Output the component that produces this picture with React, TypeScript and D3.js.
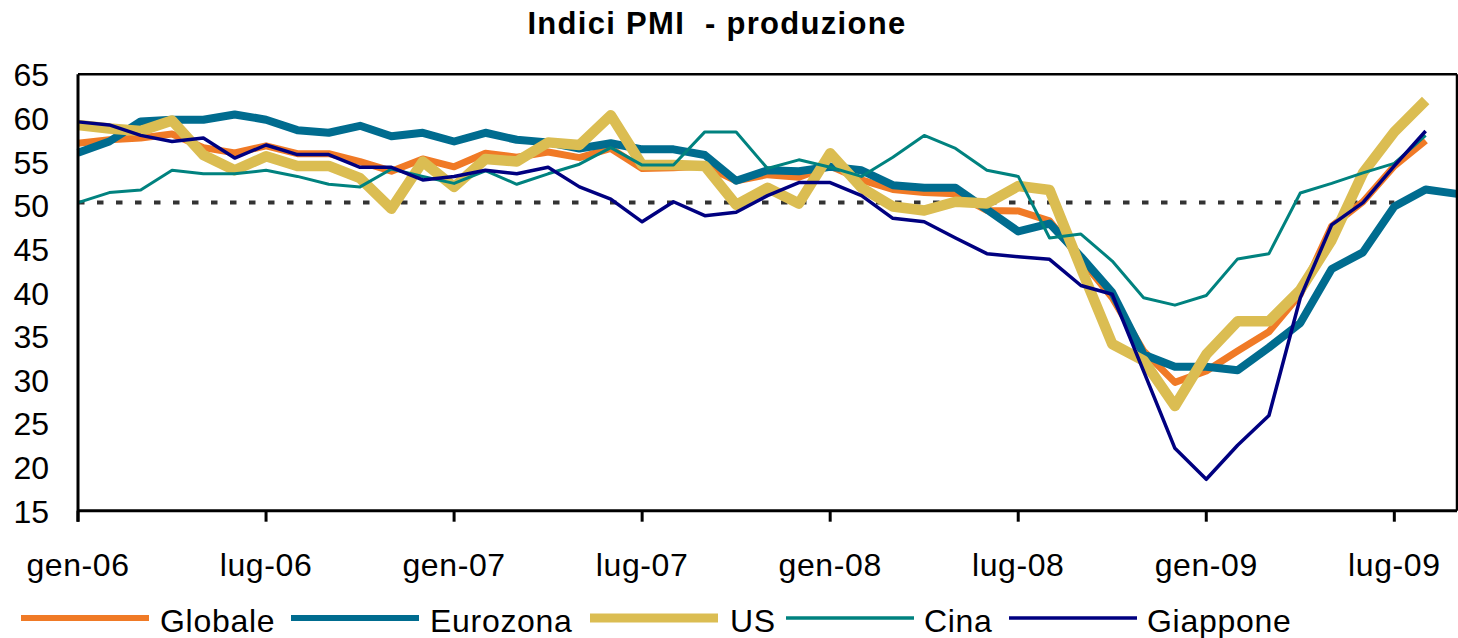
import React from "react";
import * as d3 from "d3";

const W = 1458;
const H = 638;

const monthNames = ["gen", "feb", "mar", "apr", "mag", "giu", "lug", "ago", "set", "ott", "nov", "dic"];
const years = ["06", "07", "08", "09"];
const months: string[] = [];
years.forEach((y) => monthNames.forEach((m) => months.push(`${m}-${y}`)));
const categories = months.slice(0, 45); // gen-06 .. set-09

const tickLabels = ["gen-06", "lug-06", "gen-07", "lug-07", "gen-08", "lug-08", "gen-09", "lug-09"];
const yTicks = [15, 20, 25, 30, 35, 40, 45, 50, 55, 60, 65];

const globale = [57.1, 57.5, 57.7, 58.15, 56.6, 56.0, 56.8, 55.9, 55.9, 55.0, 53.9, 55.3, 54.4, 55.95, 55.5, 56.1, 55.45, 56.5, 54.2, 54.3, 54.5, 52.8, 53.5, 53.2, 54.5, 52.9, 51.8, 51.45, 51.3, 49.4, 49.35, 48.2, 43.8, 39.4, 33.3, 29.7, 31.0, 33.3, 35.5, 39.8, 47.6, 50.4, 54.5, 57.4];
const eurozona = [56.0, 57.3, 59.6, 59.8, 59.8, 60.4, 59.8, 58.6, 58.3, 59.1, 57.9, 58.3, 57.3, 58.3, 57.5, 57.2, 56.5, 57.1, 56.4, 56.4, 55.75, 52.8, 54.0, 53.9, 54.4, 54.0, 52.3, 52.0, 52.0, 49.5, 47.0, 47.9, 44.1, 40.0, 32.9, 31.5, 31.5, 31.1, 33.7, 36.5, 42.7, 44.6, 49.85, 51.8, 51.3];
const us = [59.2, 58.8, 58.5, 59.7, 55.75, 54.0, 55.6, 54.5, 54.5, 53.1, 49.6, 55.0, 52.1, 55.3, 55.0, 57.2, 56.9, 60.3, 54.6, 54.6, 54.5, 50.05, 52.0, 50.2, 55.95, 52.0, 49.85, 49.4, 50.4, 50.2, 52.2, 51.75, 42.8, 34.1, 32.2, 27.0, 32.9, 36.7, 36.7, 40.3, 46.0, 53.7, 58.4, 62.0];
const cina = [50.3, 51.45, 51.75, 54.0, 53.6, 53.6, 54.0, 53.3, 52.4, 52.1, 54.15, 53.3, 52.5, 53.95, 52.4, 53.6, 54.7, 56.6, 54.6, 54.6, 58.4, 58.4, 54.2, 55.2, 54.35, 53.3, 55.5, 58.0, 56.5, 54.0, 53.3, 46.25, 46.7, 43.6, 39.4, 38.55, 39.65, 43.85, 44.45, 51.4, 52.5, 53.7, 54.8, 58.0];
const giappone = [59.55, 59.2, 58.0, 57.3, 57.7, 55.4, 56.9, 55.8, 55.8, 54.35, 54.35, 52.9, 53.3, 54.0, 53.6, 54.35, 52.1, 50.7, 48.1, 50.4, 48.8, 49.2, 51.1, 52.6, 52.6, 51.1, 48.5, 48.1, 46.25, 44.45, 44.1, 43.8, 40.8, 39.8, 31.0, 22.15, 18.6, 22.5, 25.9, 39.4, 47.75, 50.3, 54.5, 58.5];
const threshold = 50.3;
const thresholdEnd = "lug-09";

const series = [
  { name: "Globale", values: globale, color: "#F07A26", width: 7, legendWidth: 6 },
  { name: "Eurozona", values: eurozona, color: "#006C8F", width: 8, legendWidth: 6 },
  { name: "US", values: us, color: "#DBBD52", width: 10.5, legendWidth: 9 },
  { name: "Cina", values: cina, color: "#00827F", width: 3, legendWidth: 3.5 },
  { name: "Giappone", values: giappone, color: "#000080", width: 3.5, legendWidth: 3.5 },
];

const FONT = "'Liberation Sans', Arial, sans-serif";

export default function App() {
  const left = 78;
  const right = 1457;
  const top = 74.3;
  const bottom = 510.7;

  const x = d3.scalePoint<string>().domain(categories).range([left, right]);
  const y = d3.scaleLinear().domain([15, 65]).range([bottom, top]);

  const lineGen = d3
    .line<number>()
    .x((_, i) => x(categories[i]) as number)
    .y((d) => y(d));

  const legendItems = [
    { lx: 21, tx: 160 },
    { lx: 291, tx: 430 },
    { lx: 590, tx: 730 },
    { lx: 786, tx: 924 },
    { lx: 1009, tx: 1147 },
  ];

  return (
    <svg
      width={W}
      height={H}
      viewBox={`0 0 ${W} ${H}`}
      style={{ position: "absolute", left: 0, top: 0, display: "block", background: "#fff" }}
      fontFamily={FONT}
    >
      <rect x={0} y={0} width={W} height={H} fill="#fff" />
      <text x={717} y={34} textAnchor="middle" fontSize={31} fontWeight="bold" fill="#000" letterSpacing={1.3} style={{ whiteSpace: "pre" }}>
        {"Indici PMI  - produzione"}
      </text>

      {/* Y axis labels */}
      {yTicks.map((t) => (
        <text key={t} x={49} y={y(t) + 12} textAnchor="end" fontSize={32} fill="#000">
          {t}
        </text>
      ))}

      {/* X ticks and labels */}
      {tickLabels.map((lab) => {
        const xx = x(lab) as number;
        return (
          <g key={lab}>
            <line x1={xx} x2={xx} y1={bottom} y2={bottom + 11} stroke="#000" strokeWidth={3} />
            <text x={xx} y={576} textAnchor="middle" fontSize={32} fill="#000" letterSpacing={0.6}>
              {lab}
            </text>
          </g>
        );
      })}

      {/* threshold dotted line */}
      <line
        x1={x(categories[0]) as number}
        x2={x(thresholdEnd) as number}
        y1={y(threshold)}
        y2={y(threshold)}
        stroke="#333"
        strokeWidth={4}
        strokeDasharray="6.5 12.5"
      />

      {/* series */}
      {series.map((s) => (
        <path
          key={s.name}
          d={lineGen(s.values) || ""}
          fill="none"
          stroke={s.color}
          strokeWidth={s.width}
          strokeLinejoin="round"
          strokeLinecap="butt"
        />
      ))}

      {/* frame */}
      <line x1={left} x2={right} y1={top} y2={top} stroke="#000" strokeWidth={2.5} />
      <line x1={right} x2={right} y1={top} y2={bottom} stroke="#000" strokeWidth={2.5} />
      <line x1={left} x2={left} y1={top} y2={bottom + 11} stroke="#000" strokeWidth={3} />
      <line x1={left} x2={right} y1={bottom} y2={bottom} stroke="#000" strokeWidth={3} />

      {/* legend */}
      {series.map((s, i) => (
        <g key={s.name}>
          <line
            x1={legendItems[i].lx}
            x2={legendItems[i].lx + 128}
            y1={618}
            y2={618}
            stroke={s.color}
            strokeWidth={s.legendWidth}
          />
          <text x={legendItems[i].tx} y={632} fontSize={32} fill="#000" letterSpacing={0.7}>
            {s.name}
          </text>
        </g>
      ))}
    </svg>
  );
}
